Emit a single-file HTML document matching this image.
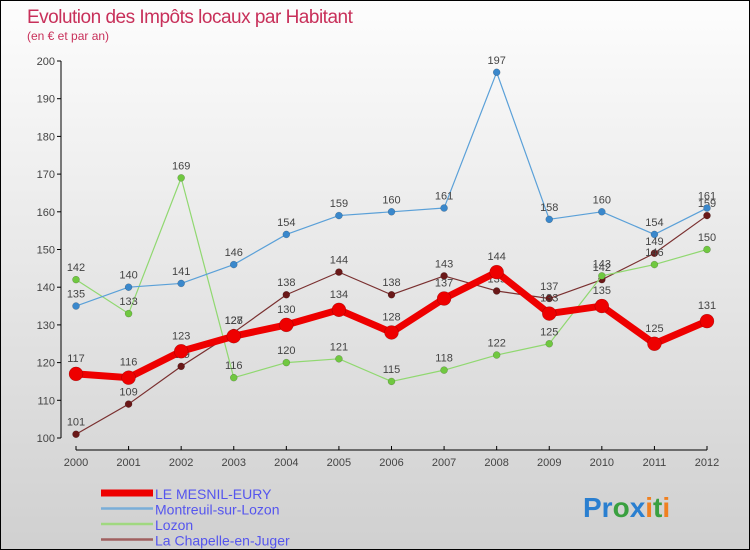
<!DOCTYPE html>
<html><head><meta charset="utf-8"><style>
body{margin:0;}
#wrap{width:748px;height:548px;border:1px solid #000;background:linear-gradient(#fdfdfd,#d0d0d0);position:relative;overflow:hidden;font-family:"Liberation Sans",sans-serif;}
svg text{font-family:"Liberation Sans",sans-serif;}
</style></head><body>
<div id="wrap">
<svg id="chart" width="748" height="548">
<text x="26" y="22" font-size="19" fill="#c8305a" style="letter-spacing:-0.5px">Evolution des Impôts locaux par Habitant</text>
<text x="26" y="39" font-size="12" fill="#c8305a">(en € et par an)</text>
<g id="axes"></g>
<g id="series"></g>
<g id="legend"></g>
<text x="582" y="516" font-size="28" font-weight="bold"><tspan fill="#2a7fd0">Pr</tspan><tspan fill="#3aa040">o</tspan><tspan fill="#2a7fd0">x</tspan><tspan fill="#f08020">i</tspan><tspan fill="#3aa040">t</tspan><tspan fill="#f08020">i</tspan></text>
</svg></div>
<script>
const years=[2000,2001,2002,2003,2004,2005,2006,2007,2008,2009,2010,2011,2012];
const yTicks=[100,110,120,130,140,150,160,170,180,190,200];
const mesnil=[117,116,123,127,130,134,128,137,144,133,135,125,131];
const montreuil=[135,140,141,146,154,159,160,161,197,158,160,154,161];
const lozon=[142,133,169,116,120,121,115,118,122,125,143,146,150];
const chapelle=[101,109,119,128,138,144,138,143,139,137,142,149,159];
const NS='http://www.w3.org/2000/svg';
const X=i=>75+i*(631/12);
const Y=v=>437-(v-100)*3.77;
function mk(t,a,p){const e=document.createElementNS(NS,t);for(const k in a)e.setAttribute(k,a[k]);p.appendChild(e);return e;}
const ax=document.getElementById('axes');
let yl=mk('line',{x1:60,y1:60,x2:60,y2:437,stroke:'#000'},ax);


yTicks.forEach(v=>{
 mk('line',{x1:56,y1:Y(v),x2:60,y2:Y(v),stroke:'#000'},ax);
 const t=mk('text',{x:54,y:Y(v)+4,'font-size':11,fill:'#444','text-anchor':'end'},ax);t.textContent=v;
 
 
});
let xl=mk('line',{x1:75,y1:449,x2:706,y2:449,stroke:'#000'},ax);


years.forEach((y,i)=>{
 mk('line',{x1:X(i),y1:445,x2:X(i),y2:449,stroke:'#000'},ax);
 const t=mk('text',{x:X(i),y:465,'font-size':11,fill:'#444','text-anchor':'middle'},ax);t.textContent=y;
 
 
});
const sg=document.getElementById('series');
const defs=[
 {d:chapelle,c:'#7a3030',pc:'#6a1818',w:1.2,r:3.5,n:'la-chapelle-en-juger'},
 {d:lozon,c:'#90d870',pc:'#70c840',w:1.2,r:3.5,n:'lozon'},
 {d:montreuil,c:'#5aa0d8',pc:'#3a88cc',w:1.2,r:3.5,n:'montreuil-sur-lozon'},
 {d:mesnil,c:'#ee0000',pc:'#ee0000',w:7,r:7,n:'le-mesnil-eury'}];
defs.forEach(s=>{
 const g=mk('g',{},sg);
 
 
 const l=mk('polyline',{points:s.d.map((v,i)=>X(i)+','+Y(v)).join(' '),fill:'none',stroke:s.c,'stroke-width':s.w,'stroke-linejoin':'round'},g);
 
 
 s.d.forEach((v,i)=>{
  const c=mk('circle',{cx:X(i),cy:Y(v),r:s.r,fill:s.pc,stroke:'rgba(0,0,0,0.3)','stroke-width':0.5},g);
  
  
  const t=mk('text',{x:X(i),y:Y(v)-(s.r+5),'font-size':11,fill:'#444','text-anchor':'middle'},g);t.textContent=v;
  
  
 });
});
const lg=document.getElementById('legend');
const items=[['LE MESNIL-EURY','#ee0000',7],['Montreuil-sur-Lozon','#7aaed8',2.5],['Lozon','#a0d880',2.5],['La Chapelle-en-Juger','#a06060',2.5]];
items.forEach((it,i)=>{
 const y=492+i*15.5;
 const g=mk('g',{},lg);
 
 
 mk('line',{x1:100,y1:y,x2:152,y2:y,stroke:it[1],'stroke-width':it[2]},g);
 const t=mk('text',{x:154,y:y+6,'font-size':14,fill:'#5555ee'},g);t.textContent=it[0];
 
 
});
</script>
</body></html>
